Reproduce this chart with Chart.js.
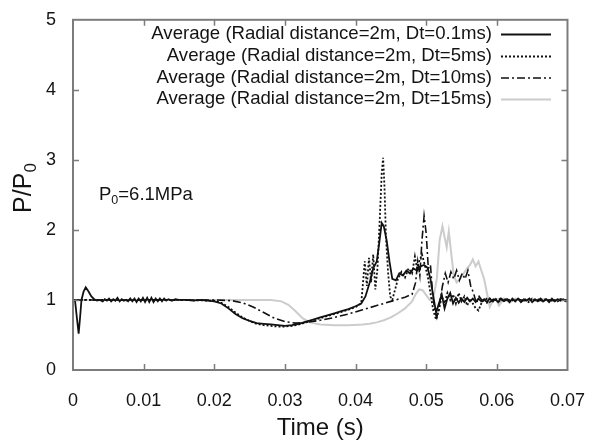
<!DOCTYPE html>
<html><head><meta charset="utf-8">
<script src="https://cdn.jsdelivr.net/npm/chart.js@4.4.1/dist/chart.umd.min.js"></script>
<style>html,body{margin:0;padding:0;background:#fff;}canvas{display:block;}</style>
</head><body>
<canvas id="c" width="597" height="445"></canvas>
<script>
// ---- data (time in s, P/P0) ----
const seriesLabels = [
  'Average (Radial distance=2m, Dt=0.1ms)',
  'Average (Radial distance=2m, Dt=5ms)',
  'Average (Radial distance=2m, Dt=10ms)',
  'Average (Radial distance=2m, Dt=15ms)'
];
const xTicks = [0, 0.01, 0.02, 0.03, 0.04, 0.05, 0.06, 0.07];
const yTicks = [0, 1, 2, 3, 4, 5];

const dt01 = [[0,1.00],[0.0003,0.98],[0.0006,0.70],[0.0008,0.52],[0.0010,0.75],[0.0012,1.00],[0.0015,1.12],[0.0018,1.18],
 [0.0022,1.12],[0.0026,1.05],[0.0030,1.01],[0.0034,0.99],[0.0038,1.00],[0.0042,0.98],[0.0045,1.01],[0.0048,0.99],
 [0.0051,1.02],[0.0054,0.98],[0.0057,1.01],[0.0060,0.99],[0.0063,1.03],[0.0066,0.98],[0.0069,1.01],[0.0072,0.99],
 [0.0075,1.00],[0.0078,0.98],[0.0081,1.02],[0.0084,0.98],[0.0087,1.02],[0.0090,0.97],[0.0093,1.02],[0.0096,0.98],
 [0.0099,1.03],[0.0102,0.97],[0.0105,1.03],[0.0108,0.97],[0.0111,1.03],[0.0114,0.97],[0.0117,1.02],[0.0120,0.98],
 [0.0123,1.02],[0.0126,0.98],[0.0129,1.02],[0.0132,0.99],[0.0135,1.01],[0.0140,0.99],[0.0145,1.01],[0.0150,1.00],
 [0.0160,1.00],[0.0170,0.99],[0.0180,1.00],[0.0190,0.99],[0.0200,0.98],[0.0210,0.95],[0.0220,0.88],[0.0230,0.80],
 [0.0240,0.74],[0.0250,0.70],[0.0260,0.67],[0.0270,0.66],[0.0280,0.65],[0.0290,0.64],[0.0300,0.63],[0.0310,0.64],
 [0.0320,0.66],[0.0330,0.69],[0.0340,0.72],[0.0350,0.75],[0.0360,0.78],[0.0370,0.81],[0.0380,0.84],[0.0390,0.87],
 [0.0400,0.91],[0.0408,0.95],[0.0414,1.05],[0.0420,1.25],[0.0425,1.45],[0.0430,1.55],[0.0434,1.85],[0.0437,2.10],
 [0.0440,2.05],[0.0444,1.85],[0.0448,1.55],[0.0452,1.30],[0.0457,1.28],[0.0462,1.38],[0.0467,1.35],[0.0472,1.42],
 [0.0477,1.38],[0.0482,1.45],[0.0487,1.42],[0.0492,1.48],[0.0497,1.50],[0.0502,1.46],[0.0506,1.30],[0.0510,1.05],
 [0.0514,0.82],[0.0518,0.95],[0.0522,1.08],[0.0526,0.88],[0.0530,1.02],[0.0534,1.10],[0.0538,0.95],[0.0542,1.03],
 [0.0546,0.96],[0.0550,1.02],[0.0554,0.97],[0.0558,1.03],[0.0562,0.98],[0.0566,1.02],[0.0570,0.97],[0.0574,1.02],
 [0.0578,0.98],[0.0582,1.01],[0.0586,0.97],[0.0590,1.02],[0.0594,0.98],[0.0598,1.01],[0.0602,0.97],[0.0606,1.02],
 [0.0610,0.99],[0.0614,1.01],[0.0618,0.97],[0.0622,1.02],[0.0626,0.98],[0.0630,1.02],[0.0634,0.97],[0.0638,1.01],
 [0.0642,0.99],[0.0646,1.02],[0.0650,0.97],[0.0654,1.01],[0.0658,0.98],[0.0662,1.02],[0.0666,0.98],[0.0670,1.01],
 [0.0674,0.97],[0.0678,1.02],[0.0682,0.98],[0.0686,1.01],[0.0690,0.99],[0.0694,1.01],[0.0698,0.98],[0.0700,1.00]];

const dt5 = [[0,1.00],[0.005,1.00],[0.010,1.00],[0.015,1.00],[0.020,0.99],[0.021,0.96],[0.022,0.90],[0.023,0.82],
 [0.024,0.75],[0.025,0.70],[0.026,0.66],[0.027,0.64],[0.028,0.63],[0.029,0.62],[0.030,0.62],[0.031,0.63],
 [0.032,0.65],[0.033,0.68],[0.034,0.71],[0.035,0.74],[0.036,0.77],[0.037,0.80],[0.038,0.83],[0.039,0.86],
 [0.040,0.90],[0.0408,0.95],[0.0411,1.30],[0.0413,1.55],[0.0416,1.20],[0.0419,1.60],[0.0422,1.25],[0.0425,1.65],
 [0.0428,1.15],[0.0431,1.45],[0.0434,2.10],[0.0437,2.80],[0.0439,3.03],[0.0441,2.60],[0.0443,1.90],[0.0446,1.40],
 [0.0449,1.05],[0.0452,1.00],[0.0456,1.15],[0.0460,1.30],[0.0465,1.40],[0.0470,1.32],[0.0475,1.45],[0.0480,1.38],
 [0.0484,1.62],[0.0487,1.45],[0.0490,1.55],[0.0494,1.65],[0.0498,1.50],[0.0502,1.35],[0.0506,1.10],[0.0510,0.85],
 [0.0514,0.72],[0.0518,0.85],[0.0522,1.05],[0.0526,0.95],[0.0530,1.10],[0.0534,1.00],[0.0538,1.08],[0.0542,0.95],
 [0.0546,1.10],[0.0550,0.98],[0.0554,1.05],[0.0558,0.92],[0.0562,1.02],[0.0566,0.95],[0.0570,0.88],[0.0574,0.85],
 [0.0578,0.95],[0.0582,1.02],[0.0586,0.96],[0.0590,1.02],[0.0595,0.98],[0.0600,1.01],[0.0605,0.97],[0.0610,1.02],
 [0.0615,0.99],[0.0620,1.01],[0.0625,0.98],[0.0630,1.02],[0.0635,0.98],[0.0640,1.01],[0.0645,0.97],[0.0650,1.02],
 [0.0655,0.99],[0.0660,1.01],[0.0665,0.98],[0.0670,1.02],[0.0675,0.98],[0.0680,1.01],[0.0685,0.97],[0.0690,1.01],
 [0.0695,0.99],[0.0700,1.00]];

const dt10 = [[0,1.00],[0.010,1.00],[0.020,1.00],[0.0225,0.99],[0.024,0.96],[0.0255,0.90],[0.027,0.82],[0.0285,0.74],
 [0.030,0.69],[0.0315,0.67],[0.033,0.68],[0.035,0.71],[0.037,0.75],[0.039,0.80],[0.041,0.86],[0.043,0.92],
 [0.045,0.98],[0.046,1.01],[0.047,1.04],[0.048,1.08],[0.0485,1.25],[0.0488,1.55],[0.0491,1.35],[0.0494,1.85],
 [0.0497,2.20],[0.0500,1.95],[0.0503,1.45],[0.0506,1.50],[0.0509,1.10],[0.0512,0.85],[0.0515,0.75],[0.0519,0.95],
 [0.0523,1.20],[0.0527,1.38],[0.0531,1.25],[0.0535,1.40],[0.0539,1.30],[0.0543,1.42],[0.0547,1.28],[0.0551,1.38],
 [0.0555,1.30],[0.0559,1.42],[0.0563,1.20],[0.0567,1.10],[0.0571,0.95],[0.0575,1.05],[0.0580,0.98],[0.0585,1.02],
 [0.0590,0.97],[0.0595,1.01],[0.0600,0.99],[0.0605,1.02],[0.0610,0.98],[0.0615,1.01],[0.0620,0.99],[0.0630,1.01],
 [0.0640,0.99],[0.0650,1.01],[0.0660,0.99],[0.0670,1.01],[0.0680,0.99],[0.0690,1.01],[0.0700,1.00]];

const dt15 = [[0,1.00],[0.010,1.00],[0.020,1.00],[0.028,1.00],[0.0295,0.98],[0.0305,0.93],[0.0315,0.84],[0.0325,0.74],
 [0.0335,0.68],[0.035,0.65],[0.037,0.64],[0.039,0.64],[0.041,0.65],[0.042,0.66],[0.043,0.68],[0.044,0.71],
 [0.045,0.75],[0.046,0.81],[0.047,0.88],[0.048,0.98],[0.0485,1.08],[0.049,1.15],[0.0495,1.14],[0.050,1.07],
 [0.0505,1.00],[0.051,1.02],[0.0515,1.30],[0.0519,1.85],[0.0523,2.05],[0.0526,1.90],[0.0529,1.75],[0.0532,1.98],
 [0.0535,1.70],[0.0539,1.35],[0.0543,1.25],[0.0548,1.30],[0.0553,1.38],[0.0558,1.45],[0.0562,1.50],[0.0566,1.58],
 [0.0570,1.48],[0.0574,1.55],[0.0578,1.42],[0.0582,1.30],[0.0586,1.10],[0.0590,0.90],[0.0594,0.98],[0.0598,1.02],
 [0.0603,0.92],[0.0610,1.02],[0.0618,0.96],[0.0626,1.02],[0.0635,0.98],[0.0645,1.01],[0.0655,0.99],[0.0665,1.01],
 [0.0675,0.99],[0.0688,1.01],[0.0700,1.00]];

const FONT = "'Liberation Sans', Arial, Helvetica, sans-serif";
const toXY = arr => arr.map(([t, p]) => ({x: t, y: p}));

const overlay = {
  id: 'overlay',
  afterDatasetsDraw(chart) {
    const {ctx, chartArea: a, scales: {x, y}} = chart;
    ctx.save();
    // frame
    ctx.strokeStyle = '#7c7c7c';
    ctx.lineWidth = 2;
    ctx.strokeRect(a.left, a.top, a.right - a.left, a.bottom - a.top);
    // inward ticks (mirrored)
    ctx.lineWidth = 1.5;
    ctx.beginPath();
    xTicks.forEach(v => {
      if (v <= x.min || v >= x.max) return;
      const px = Math.round(x.getPixelForValue(v)) + 0.5;
      ctx.moveTo(px, a.bottom); ctx.lineTo(px, a.bottom - 6);
      ctx.moveTo(px, a.top); ctx.lineTo(px, a.top + 6);
    });
    yTicks.forEach(v => {
      if (v <= y.min || v >= y.max) return;
      const py = Math.round(y.getPixelForValue(v)) + 0.5;
      ctx.moveTo(a.left, py); ctx.lineTo(a.left + 6, py);
      ctx.moveTo(a.right, py); ctx.lineTo(a.right - 6, py);
    });
    ctx.stroke();

    // legend (text right-aligned, sample line to the right)
    const rows = [34, 56, 77.5, 99];
    ctx.font = '18.6px ' + FONT;
    ctx.textAlign = 'right';
    ctx.textBaseline = 'middle';
    chart.data.datasets.forEach((ds, i) => {
      ctx.fillStyle = '#141414';
      ctx.fillText(ds.label, 492, rows[i]);
      ctx.strokeStyle = ds.borderColor;
      ctx.lineWidth = ds.borderWidth;
      ctx.setLineDash(ds.borderDash || []);
      ctx.beginPath();
      ctx.moveTo(501, rows[i] + 0.5); ctx.lineTo(551, rows[i] + 0.5);
      ctx.stroke();
    });
    ctx.setLineDash([]);

    // annotation P0=6.1MPa
    ctx.fillStyle = '#141414';
    ctx.textAlign = 'left';
    ctx.textBaseline = 'alphabetic';
    let tx = 99;
    ctx.font = '18.5px ' + FONT;
    ctx.fillText('P', tx, 200); tx += ctx.measureText('P').width;
    ctx.font = '12.5px ' + FONT;
    ctx.fillText('0', tx, 204); tx += ctx.measureText('0').width;
    ctx.font = '18.5px ' + FONT;
    ctx.fillText('=6.1MPa', tx, 200);

    // y axis title P/P0 (rotated)
    ctx.save();
    ctx.translate(22, 188);
    ctx.rotate(-Math.PI / 2);
    ctx.font = '25px ' + FONT;
    const w1 = ctx.measureText('P/P').width;
    ctx.font = '17px ' + FONT;
    const w2 = ctx.measureText('0').width;
    const start = -(w1 + w2) / 2;
    ctx.textAlign = 'left';
    ctx.font = '25px ' + FONT;
    ctx.fillText('P/P', start, 9);
    ctx.font = '17px ' + FONT;
    ctx.fillText('0', start + w1, 14);
    ctx.restore();

    ctx.restore();
  }
};

new Chart(document.getElementById('c'), {
  type: 'line',
  data: {
    datasets: [
      {label: seriesLabels[0], data: toXY(dt01), borderColor: '#111111', borderWidth: 1.8, borderDash: []},
      {label: seriesLabels[1], data: toXY(dt5), borderColor: '#111111', borderWidth: 1.8, borderDash: [2, 2]},
      {label: seriesLabels[2], data: toXY(dt10), borderColor: '#111111', borderWidth: 1.6, borderDash: [8, 3, 2, 3]},
      {label: seriesLabels[3], data: toXY(dt15), borderColor: '#cccccc', borderWidth: 2, borderDash: []}
    ]
  },
  options: {
    responsive: false,
    animation: false,
    devicePixelRatio: 1,
    parsing: false,
    layout: {padding: {left: 0, right: 24, top: 15, bottom: 0}},
    elements: {point: {radius: 0}, line: {tension: 0, fill: false}},
    plugins: {legend: {display: false}, tooltip: {enabled: false}},
    scales: {
      x: {
        type: 'linear', min: 0, max: 0.07,
        afterBuildTicks: s => { s.ticks = xTicks.map(v => ({value: v})); },
        afterFit: s => { s.height = 75; },
        grid: {display: false}, border: {display: false},
        ticks: {padding: 12, color: '#141414', font: {family: FONT, size: 18},
                callback: v => (v === 0 ? '0' : Number(v).toFixed(2))},
        title: {display: true, text: 'Time (s)', color: '#141414',
                font: {family: FONT, size: 24}, padding: {top: 0, bottom: 2}}
      },
      y: {
        type: 'linear', min: 0, max: 5,
        afterBuildTicks: s => { s.ticks = yTicks.map(v => ({value: v})); },
        afterFit: s => { s.width = 73; },
        grid: {display: false}, border: {display: false},
        ticks: {padding: 9, color: '#141414', font: {family: FONT, size: 18},
                callback: v => String(v)}
      }
    }
  },
  plugins: [overlay]
});
</script>
</body></html>
